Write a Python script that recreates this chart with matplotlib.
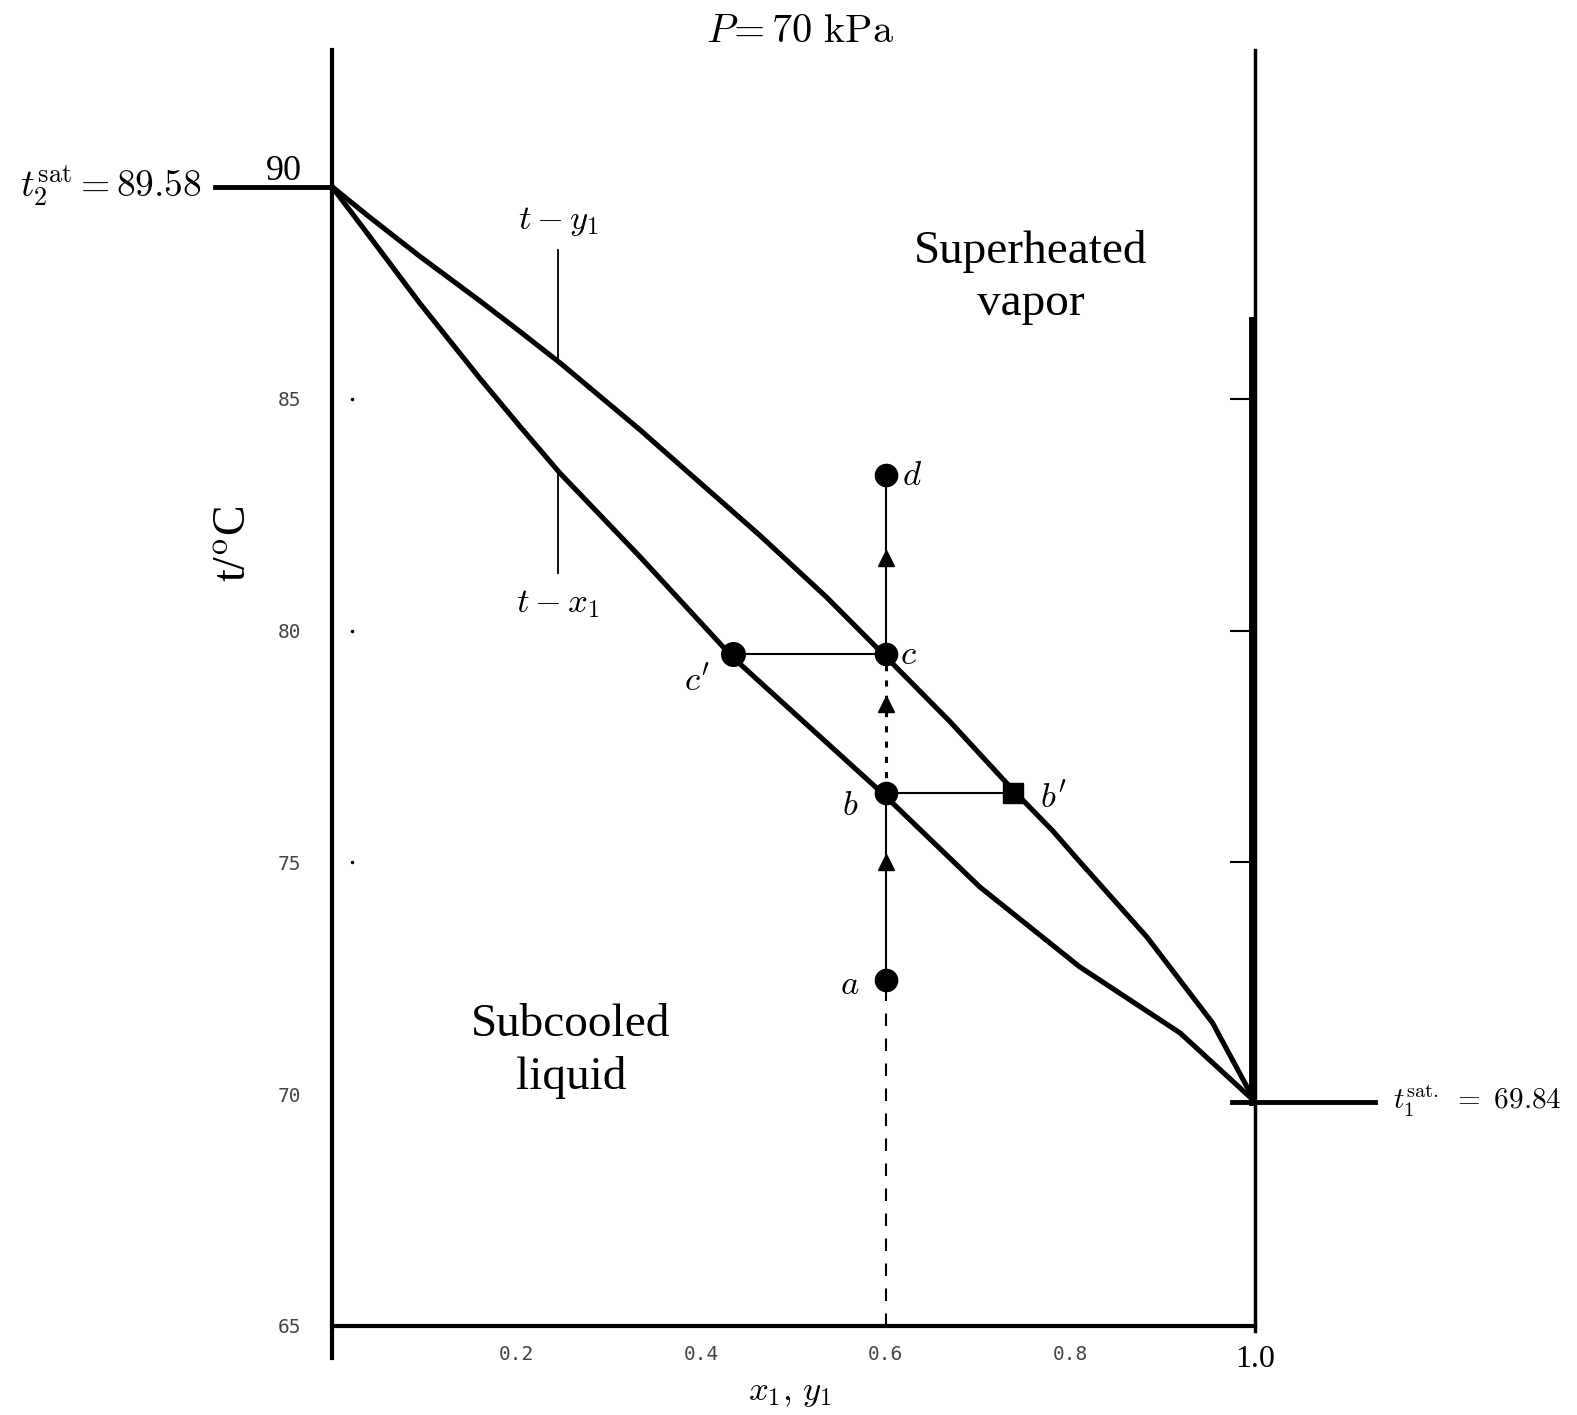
import matplotlib.pyplot as plt

plt.rcParams['mathtext.fontset'] = 'cm'

# ---------------------------------------------------------
# Donnees (P = 70 kPa)
# ---------------------------------------------------------
T2_SAT = 89.58
T1_SAT = 69.84

# courbe t-y1 (vapeur saturee)
x_dew = [0.0, 0.041, 0.095, 0.160, 0.204, 0.247, 0.334, 0.355, 0.464, 0.536,
         0.596, 0.670, 0.738, 0.781, 0.810, 0.883, 0.954, 1.0]
t_dew = [T2_SAT, 88.92, 88.08, 87.12, 86.45, 85.78, 84.33, 83.96, 82.05, 80.72,
         79.52, 78.03, 76.56, 75.68, 75.02, 73.39, 71.54, T1_SAT]

# courbe t-x1 (liquide sature)
x_bub = [0.0, 0.041, 0.095, 0.160, 0.204, 0.247, 0.334, 0.434, 0.596, 0.702,
         0.810, 0.919, 1.0]
t_bub = [T2_SAT, 88.50, 87.07, 85.45, 84.40, 83.40, 81.59, 79.43, 76.50, 74.47,
         72.75, 71.32, T1_SAT]

# points du chemin a -> d
z1 = 0.6
points = ["a", "b", "c", "d"]
t_points = [72.47, 76.50, 79.50, 83.36]
x_c_prime, t_c_prime = 0.434, 79.50
x_b_prime, t_b_prime = 0.738, 76.50

y_ticks = [65, 70, 75, 80, 85, 90]
x_ticks = [0.2, 0.4, 0.6, 0.8, 1.0]

# ---------------------------------------------------------
# Figure
# ---------------------------------------------------------
fig = plt.figure(figsize=(15.77, 14.15), dpi=100)
ax = fig.add_axes([0.2105, 0.0629, 0.5853, 0.9018])
ax.set_xlim(0, 1)
ax.set_ylim(65, 92.53)
for s in ax.spines.values():
    s.set_visible(False)

# axes dessines a la main (ils depassent un peu)
ax.axvline(0, ymin=-0.025, ymax=1, color="black", lw=3, clip_on=False)
ax.axvline(1, ymin=-0.004, ymax=1, color="black", lw=2.5, clip_on=False)
ax.axhline(65, 0, 1, color="black", lw=3, clip_on=False)
ax.plot([0.997, 0.997], [86.70, T1_SAT], color="black", lw=5, clip_on=False)

# ticks
ax.set_yticks(y_ticks)
ax.set_yticklabels([str(v) for v in y_ticks], family="DejaVu Sans Mono",
                   fontsize=14, color="#444444")
ax.set_xticks(x_ticks)
ax.set_xticklabels([f"{v:.1f}" for v in x_ticks], family="DejaVu Sans Mono",
                   fontsize=14, color="#444444")
ax.tick_params(axis="x", length=0, pad=14)
ax.tick_params(axis="y", left=False, right=True, direction="in", length=18,
               width=1.5, pad=22)
for tick, v in zip(ax.yaxis.get_major_ticks(), y_ticks):
    tick.tick2line.set_visible(v in (75, 80, 85))
lab90 = ax.get_yticklabels()[-1]
lab90.set_family("Liberation Serif")
lab90.set_fontsize(26)
lab90.set_color("black")
lab10 = ax.get_xticklabels()[-1]
lab10.set_family("Liberation Serif")
lab10.set_fontsize(23)
lab10.set_color("black")

# petits points de graduation a gauche
ax.plot([0.022] * 3, [75, 80, 85], ".", color="black", ms=3)

# courbes
ax.plot(x_dew, t_dew, color="black", lw=3.7, solid_capstyle="round",
        solid_joinstyle="round")
ax.plot(x_bub, t_bub, color="black", lw=3.7, solid_capstyle="round",
        solid_joinstyle="round")

# t_sat
ax.plot([-0.127, 0], [T2_SAT, T2_SAT], color="black", lw=3.5, clip_on=False)
ax.plot([0.975, 1.13], [T1_SAT, T1_SAT], color="black", lw=3.5, clip_on=False)
ax.text(-0.141, T2_SAT, r"$t_2^{\rm sat} = 89.58$", ha="right", va="center",
        fontsize=27)
ax.text(1.149, T1_SAT, r"$t_1^{\rm sat.}\ =\ 69.84$", ha="left", va="center",
        fontsize=21)

# chemin vertical a z1 = 0.6
ta, tb, tc, td = t_points
ax.plot([z1, z1], [65, ta], color="black", lw=1.5, dashes=(6, 6))
ax.plot([z1, z1], [ta, tb], color="black", lw=1.5)
ax.plot([z1, z1], [tb, tc], color="black", lw=2.2, dashes=(2, 3))
ax.plot([z1, z1], [tc, td], color="black", lw=1.5)
ax.plot([z1] * 3, [75.0, 78.42, 81.57], "^", color="black", ms=12)

# lignes de conjugaison
ax.plot([x_c_prime, z1], [t_c_prime, tc], color="black", lw=1.5)
ax.plot([z1, x_b_prime], [tb, t_b_prime], color="black", lw=1.5)

ax.plot([z1] * 4, t_points, "o", color="black", ms=16)
ax.plot([x_c_prime], [t_c_prime], "o", color="black", ms=17)
ax.plot([x_b_prime], [t_b_prime], "s", color="black", ms=14)

fs = 25
ax.text(0.618, td, r"$d$", ha="left", va="center", fontsize=fs)
ax.text(0.615, tc, r"$c$", ha="left", va="center", fontsize=fs)
ax.text(0.395, 78.92, r"$c'$", ha="center", va="center", fontsize=fs)
ax.text(0.561, 76.24, r"$b$", ha="center", va="center", fontsize=fs)
ax.text(0.782, 76.41, r"$b'$", ha="center", va="center", fontsize=fs)
ax.text(0.561, 72.38, r"$a$", ha="center", va="center", fontsize=fs)

# etiquettes des courbes
ax.plot([0.245, 0.245], [88.21, 85.80], color="black", lw=1.3)
ax.plot([0.245, 0.245], [83.40, 81.25], color="black", lw=1.3)
ax.text(0.245, 88.85, r"$t-y_1$", ha="center", va="center", fontsize=fs)
ax.text(0.245, 80.60, r"$t-x_1$", ha="center", va="center", fontsize=fs)

ax.text(0.757, 87.62, "Superheated\nvapor", ha="center", va="center",
        family="Liberation Serif", fontsize=34, linespacing=1.3)
ax.text(0.259, 70.93, "Subcooled\nliquid", ha="center", va="center",
        family="Liberation Serif", fontsize=34, linespacing=1.3)

fig.text(0.507, 0.978, r"$P\!=70\ \mathrm{kPa}$", ha="center", va="center",
         fontsize=29)
fig.text(0.149, 0.616, r"t/$^{\rm o}$C", ha="center", va="center",
         rotation=90, family="Liberation Serif", fontsize=33)
fig.text(0.501, 0.016, r"$x_1,\,y_1$", ha="center", va="center", fontsize=25)

fig.savefig("out.png", dpi=100)
